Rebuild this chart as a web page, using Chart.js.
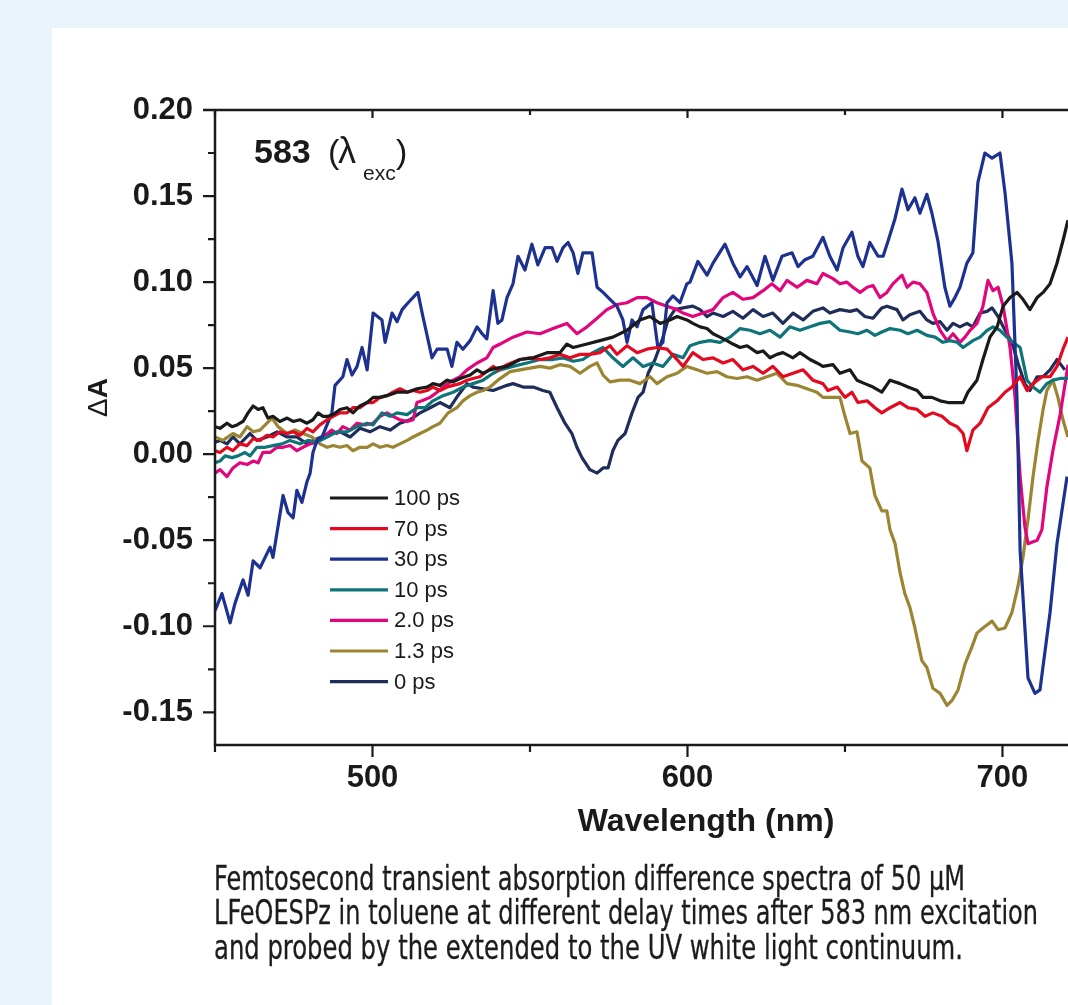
<!DOCTYPE html>
<html>
<head>
<meta charset="utf-8">
<script src="https://cdn.jsdelivr.net/npm/chart.js@4.4.1/dist/chart.umd.min.js"></script>
<style>
html,body{margin:0;padding:0;overflow:hidden;}
body{width:1068px;height:1005px;background:#e9f4fa;position:relative;}
#panel{position:absolute;left:52px;top:28px;right:0;bottom:0;background:#ffffff;}
#wrap{position:absolute;left:0;top:0;width:1068px;height:1005px;}
.cap{position:absolute;left:214px;font-family:"Liberation Sans Narrow","DejaVu Sans Condensed","Liberation Sans",sans-serif;font-size:34px;line-height:34px;color:#1e1b1c;white-space:nowrap;transform-origin:0 0;-webkit-text-stroke:0.3px #1e1b1c;}
</style>
</head>
<body>
<div id="panel"></div>
<div id="wrap"><canvas id="c"></canvas></div>
<div class="cap" id="cap1" style="top:861px">Femtosecond transient absorption difference spectra of 50 μM</div>
<div class="cap" id="cap2" style="top:895px">LFeOESPz in toluene at different delay times after 583 nm excitation</div>
<div class="cap" id="cap3" style="top:930px">and probed by the extended to the UV white light continuum.</div>
<script>
// ---------------- data (wavelength in nm, ΔA) ----------------
const wl100 = [450.0,451.6,453.8,455.4,457.0,458.9,460.5,462.1,463.7,465.2,
466.8,468.4,470.6,472.9,474.8,477.0,479.2,481.1,482.7,484.3,
485.9,487.5,489.7,491.9,493.8,496.0,498.3,500.2,502.4,504.6,
507.8,511.0,514.1,517.3,519.2,521.4,523.7,525.6,527.8,531.0,
533.2,535.1,537.3,539.5,542.7,546.8,551.0,555.4,559.5,561.7,
563.7,568.1,572.2,576.3,580.8,584.9,588.1,591.3,594.4,596.7,
599.8,601.7,604.0,606.2,608.1,610.3,612.5,614.4,616.7,618.9,
622.1,624.0,626.2,628.4,630.3,633.5,635.7,638.9,641.1,643.0,
646.2,648.4,651.6,653.8,656.3,658.9,661.7,664.3,667.5,670.0,
672.9,674.8,677.6,680.2,682.7,685.6,687.5,689.0,691.9,693.8,
696.0,698.3,700.2,702.4,704.6,706.5,708.7,711.0,712.9,715.1,
717.3,719.2,720.8];
const dA100 = [0.016,0.015,0.018,0.016,0.017,0.019,0.024,0.028,0.026,0.027,
0.021,0.022,0.019,0.021,0.019,0.020,0.018,0.020,0.024,0.022,
0.022,0.023,0.026,0.027,0.024,0.028,0.030,0.033,0.033,0.034,
0.036,0.036,0.038,0.039,0.041,0.040,0.043,0.042,0.044,0.046,
0.049,0.047,0.049,0.050,0.051,0.055,0.056,0.059,0.059,0.064,
0.062,0.064,0.066,0.068,0.072,0.078,0.080,0.076,0.078,0.080,
0.078,0.076,0.074,0.073,0.070,0.068,0.066,0.064,0.062,0.063,
0.059,0.060,0.056,0.058,0.059,0.056,0.059,0.055,0.053,0.051,
0.052,0.047,0.049,0.043,0.041,0.039,0.036,0.043,0.041,0.039,
0.037,0.033,0.033,0.031,0.030,0.030,0.030,0.036,0.043,0.055,
0.068,0.074,0.086,0.091,0.094,0.090,0.084,0.091,0.094,0.099,
0.111,0.124,0.136];

const wl70 = [450.0,451.6,453.8,455.7,457.9,460.2,462.1,464.3,466.5,468.4,
470.6,472.9,474.8,477.0,479.2,481.1,483.3,485.6,487.5,489.7,
491.9,493.8,496.0,498.3,500.2,502.4,504.6,506.5,508.7,511.0,
512.9,515.1,517.3,519.2,521.4,523.7,525.6,527.8,530.0,531.9,
534.1,536.3,538.3,539.8,542.7,546.8,550.0,553.2,556.3,559.5,
562.7,565.9,569.0,572.2,575.4,577.6,580.8,584.0,587.1,590.3,
593.5,596.7,598.6,601.7,604.9,608.1,611.3,614.4,617.6,620.8,
624.0,627.1,630.3,633.5,636.7,639.8,643.0,644.6,647.5,650.0,
652.2,654.1,657.0,659.5,661.7,664.3,667.5,670.0,672.9,675.4,
677.9,680.8,683.3,685.6,687.5,688.7,690.6,692.9,695.4,698.3,
700.8,703.0,705.6,707.8,709.7,712.5,715.1,717.3,719.2,720.8];
const dA70 = [0.002,0.001,0.004,0.002,0.006,0.005,0.009,0.008,0.011,0.010,
0.013,0.012,0.013,0.011,0.015,0.013,0.017,0.020,0.022,0.024,
0.024,0.027,0.027,0.030,0.030,0.033,0.034,0.036,0.038,0.036,
0.037,0.036,0.037,0.039,0.037,0.039,0.040,0.041,0.043,0.044,
0.045,0.048,0.051,0.049,0.052,0.055,0.056,0.055,0.056,0.058,
0.056,0.058,0.058,0.059,0.063,0.058,0.063,0.059,0.061,0.062,
0.061,0.055,0.051,0.059,0.055,0.056,0.053,0.055,0.049,0.051,
0.047,0.051,0.045,0.047,0.049,0.043,0.041,0.037,0.039,0.033,
0.036,0.030,0.031,0.027,0.024,0.027,0.030,0.027,0.026,0.022,
0.024,0.022,0.018,0.016,0.012,0.002,0.014,0.018,0.027,0.031,
0.036,0.039,0.045,0.037,0.041,0.045,0.045,0.051,0.061,0.068];

const wl30 = [450.0,452.2,454.8,456.3,458.9,460.5,462.1,464.3,467.5,468.4,
470.0,471.6,473.2,474.8,476.0,477.6,479.2,480.2,481.1,482.4,
484.0,487.1,488.1,490.6,491.9,493.5,495.1,496.7,498.3,500.2,
503.0,504.0,506.2,507.8,509.4,511.3,514.4,516.0,518.9,520.5,
523.7,525.2,526.8,528.7,531.0,533.2,534.8,536.3,538.3,539.8,
541.1,542.7,544.6,546.2,548.4,550.6,552.5,554.8,557.0,558.6,
560.5,562.1,563.7,565.2,566.8,569.7,571.3,573.2,575.4,577.6,
579.5,580.8,582.4,584.0,585.9,588.7,590.6,592.2,593.5,595.4,
597.6,599.8,600.8,603.3,606.2,608.1,611.9,614.4,616.7,618.9,
622.1,624.6,627.1,630.0,633.2,635.1,637.3,639.8,643.0,645.2,
647.5,649.4,652.2,654.1,655.7,657.9,660.5,662.1,663.7,665.9,
668.1,670.0,672.2,673.8,676.0,677.6,679.5,681.7,683.3,684.9,
686.5,688.7,690.6,692.2,694.4,696.7,699.2,700.8,703.0,704.6,
705.6,708.1,710.3,711.9,715.1,717.3,720.5];
const dA30 = [-0.091,-0.081,-0.098,-0.087,-0.073,-0.082,-0.062,-0.066,-0.054,-0.060,
-0.042,-0.024,-0.034,-0.037,-0.021,-0.028,-0.016,-0.011,0.001,0.008,
0.010,0.024,0.040,0.045,0.055,0.046,0.051,0.062,0.049,0.082,
0.078,0.065,0.082,0.077,0.084,0.088,0.094,0.080,0.056,0.061,
0.061,0.051,0.065,0.061,0.066,0.074,0.070,0.067,0.095,0.076,
0.078,0.091,0.099,0.115,0.107,0.122,0.110,0.120,0.120,0.112,
0.120,0.123,0.117,0.105,0.117,0.117,0.097,0.094,0.090,0.086,
0.078,0.065,0.078,0.074,0.084,0.088,0.062,0.065,0.088,0.092,
0.088,0.099,0.100,0.112,0.104,0.111,0.122,0.111,0.103,0.109,
0.098,0.115,0.101,0.115,0.117,0.109,0.113,0.115,0.126,0.115,
0.107,0.120,0.129,0.115,0.109,0.123,0.115,0.115,0.124,0.137,
0.154,0.142,0.149,0.140,0.151,0.140,0.124,0.097,0.086,0.091,
0.097,0.111,0.117,0.158,0.175,0.172,0.175,0.152,0.111,0.033,
-0.056,-0.130,-0.139,-0.137,-0.092,-0.052,-0.013];

const wl10 = [450.0,451.6,453.2,455.4,457.3,459.5,461.1,463.3,465.9,468.4,
471.3,473.8,477.0,479.5,482.4,485.6,488.7,491.9,495.1,498.3,
500.2,503.0,505.6,507.8,511.0,514.1,516.7,519.2,522.4,525.6,
528.7,531.9,535.1,538.3,540.5,544.6,549.0,553.2,557.3,560.5,
563.7,566.8,570.0,573.2,576.3,579.5,582.7,585.9,589.0,592.2,
595.4,598.6,600.8,604.0,607.1,610.3,613.5,616.7,619.8,623.0,
626.2,629.4,632.5,635.7,638.9,642.1,645.2,648.4,651.6,654.1,
657.0,659.5,661.7,664.3,667.5,670.0,672.9,676.0,678.6,681.1,
683.3,685.6,687.5,690.6,692.9,695.1,697.0,699.2,701.4,703.3,
705.6,707.8,709.7,711.9,714.1,716.0,718.3,720.8];
const dA10 = [-0.005,-0.004,-0.001,-0.002,-0.001,0.001,-0.001,0.004,0.004,0.005,
0.006,0.008,0.006,0.008,0.007,0.010,0.013,0.013,0.016,0.018,
0.017,0.024,0.022,0.024,0.023,0.027,0.027,0.031,0.034,0.036,
0.039,0.041,0.043,0.047,0.049,0.051,0.053,0.055,0.055,0.056,
0.054,0.055,0.059,0.062,0.056,0.051,0.056,0.051,0.053,0.051,
0.058,0.056,0.063,0.065,0.066,0.065,0.068,0.073,0.072,0.070,
0.072,0.068,0.074,0.072,0.074,0.076,0.077,0.072,0.071,0.070,
0.072,0.069,0.071,0.073,0.072,0.070,0.072,0.069,0.068,0.065,
0.066,0.065,0.062,0.066,0.068,0.072,0.074,0.072,0.068,0.065,
0.062,0.043,0.039,0.036,0.041,0.043,0.044,0.044];

const wl2 = [450.0,451.6,453.8,455.7,457.9,460.2,462.1,463.7,465.2,467.5,
469.7,471.6,473.8,476.0,477.9,480.2,482.4,484.3,487.1,488.7,
490.6,492.9,495.1,497.6,500.2,502.4,504.6,506.5,508.7,511.0,
512.9,514.1,515.7,518.3,520.5,522.4,525.6,527.8,530.0,533.2,
536.3,538.3,540.5,544.6,549.0,553.2,557.3,561.7,564.9,568.1,
571.3,574.4,577.6,580.8,584.0,587.1,590.3,593.5,596.7,598.6,
601.7,604.9,608.1,611.3,614.4,617.6,620.8,624.0,626.8,629.4,
631.6,634.8,637.9,641.1,643.0,646.2,648.4,650.6,652.5,654.8,
657.0,658.9,661.1,663.3,665.2,668.1,669.7,671.6,673.8,676.0,
677.9,680.2,682.4,684.3,686.5,688.1,689.7,691.9,693.8,695.4,
697.0,698.6,700.2,702.4,704.0,705.6,707.1,708.1,711.0,712.5,
714.1,716.0,718.3,719.8,720.8];
const dA2 = [-0.011,-0.009,-0.013,-0.008,-0.005,-0.006,-0.004,-0.005,0.001,0.001,
0.004,0.004,0.005,0.002,0.004,0.006,0.007,0.010,0.014,0.012,
0.016,0.014,0.018,0.017,0.018,0.022,0.024,0.022,0.020,0.019,
0.020,0.030,0.031,0.033,0.036,0.039,0.043,0.045,0.049,0.053,
0.056,0.062,0.064,0.068,0.071,0.070,0.073,0.076,0.070,0.074,
0.079,0.084,0.087,0.088,0.091,0.091,0.088,0.086,0.084,0.082,
0.080,0.082,0.084,0.091,0.094,0.090,0.091,0.095,0.099,0.095,
0.101,0.097,0.101,0.099,0.105,0.102,0.099,0.100,0.097,0.094,
0.097,0.098,0.091,0.094,0.099,0.104,0.097,0.100,0.099,0.094,
0.082,0.072,0.066,0.070,0.065,0.068,0.072,0.076,0.086,0.101,
0.095,0.097,0.086,0.062,0.033,-0.013,-0.042,-0.052,-0.050,-0.044,
-0.019,0.002,0.023,0.040,0.052];

const wl13 = [450.0,452.5,455.7,457.9,460.2,462.1,464.3,466.5,468.1,470.0,
472.9,475.4,477.9,480.8,483.3,485.6,487.5,489.7,491.9,493.8,
496.0,498.3,500.2,502.4,504.6,506.5,508.7,511.0,512.9,515.1,
517.3,519.2,521.4,524.0,526.8,528.7,531.0,533.2,535.1,537.3,
539.8,543.7,546.8,550.0,553.2,556.3,559.5,562.7,565.9,569.0,
571.3,573.2,575.4,578.6,581.7,584.9,588.1,590.3,593.5,596.7,
599.8,603.0,606.2,609.4,612.5,615.7,618.9,622.1,625.2,628.4,
631.6,634.8,637.9,641.1,643.0,646.2,648.4,650.0,651.6,653.8,
655.4,657.9,659.5,661.7,663.3,664.3,665.9,667.5,669.0,670.6,
672.2,674.4,676.0,677.9,680.2,682.4,684.0,685.9,688.1,690.3,
691.9,693.8,696.7,698.6,700.8,703.0,704.9,706.5,708.1,709.7,
711.3,712.9,714.1,716.0,717.6,719.2,720.8];
const dA13 = [0.010,0.008,0.012,0.010,0.016,0.013,0.014,0.018,0.021,0.016,
0.012,0.014,0.012,0.010,0.006,0.004,0.005,0.004,0.005,0.002,
0.004,0.004,0.006,0.004,0.005,0.004,0.006,0.008,0.010,0.012,
0.014,0.016,0.018,0.024,0.027,0.031,0.034,0.036,0.037,0.039,
0.043,0.048,0.049,0.050,0.051,0.050,0.052,0.051,0.047,0.051,
0.053,0.046,0.042,0.043,0.043,0.041,0.045,0.041,0.045,0.047,
0.051,0.049,0.047,0.048,0.045,0.044,0.045,0.043,0.045,0.047,
0.041,0.040,0.038,0.036,0.033,0.033,0.033,0.022,0.012,0.013,
-0.004,-0.008,-0.024,-0.033,-0.033,-0.044,-0.052,-0.069,-0.081,-0.089,
-0.101,-0.120,-0.124,-0.136,-0.139,-0.146,-0.143,-0.137,-0.122,-0.112,
-0.104,-0.101,-0.097,-0.102,-0.101,-0.092,-0.077,-0.060,-0.038,-0.013,
0.008,0.026,0.037,0.043,0.033,0.020,0.010];

const wl0 = [450.0,451.6,453.8,455.7,457.9,461.1,463.3,466.5,469.7,472.9,
476.0,479.2,482.4,486.5,489.7,492.9,496.0,499.2,502.4,505.6,
508.7,511.9,515.1,518.3,521.4,524.6,527.1,530.0,531.9,535.1,
538.3,542.7,544.6,547.8,551.0,554.1,556.3,558.6,561.1,563.3,
564.9,566.5,569.0,571.3,573.2,574.8,576.3,577.9,580.2,582.4,
584.3,585.9,587.5,589.7,591.9,593.8,596.0,598.6,601.7,604.0,
606.2,608.1,611.3,614.4,617.6,620.8,624.0,627.1,630.3,633.5,
636.7,639.8,643.0,645.2,648.4,651.6,653.8,656.3,658.9,661.7,
663.3,666.5,668.4,670.6,673.8,676.0,677.9,680.2,682.4,684.3,
686.5,688.7,690.6,692.9,695.1,696.7,698.6,700.8,703.0,704.9,
707.1,708.7,711.0,712.9,715.1,717.3,719.8];
const dA0 = [0.007,0.008,0.006,0.010,0.006,0.012,0.008,0.010,0.013,0.010,
0.010,0.006,0.009,0.012,0.013,0.010,0.015,0.013,0.016,0.014,
0.018,0.020,0.024,0.027,0.030,0.027,0.034,0.041,0.039,0.038,
0.037,0.040,0.041,0.039,0.039,0.037,0.036,0.027,0.018,0.012,
0.004,-0.002,-0.009,-0.011,-0.008,-0.008,0.002,0.008,0.012,0.024,
0.033,0.036,0.047,0.055,0.066,0.078,0.084,0.085,0.086,0.084,
0.080,0.082,0.080,0.083,0.079,0.084,0.080,0.082,0.076,0.082,
0.078,0.083,0.085,0.082,0.084,0.083,0.084,0.080,0.079,0.085,
0.086,0.084,0.078,0.081,0.083,0.078,0.076,0.077,0.072,0.076,
0.074,0.076,0.074,0.082,0.083,0.085,0.080,0.072,0.065,0.053,
0.041,0.037,0.045,0.045,0.049,0.055,0.049];

const seriesLabels = ['100 ps','70 ps','30 ps','10 ps','2.0 ps','1.3 ps','0 ps'];
const seriesX = [wl100, wl70, wl30, wl10, wl2, wl13, wl0];
const seriesY = [dA100, dA70, dA30, dA10, dA2, dA13, dA0];
const xTickValues = [500, 600, 700];
const yTickValues = [-0.15, -0.10, -0.05, 0.00, 0.05, 0.10, 0.15, 0.20];

// ---------------- styles ----------------
const seriesColors = ['#1a1a1a','#e30a20','#1d3190','#0f7479','#e2067d','#9b8532','#1f2d5a'];
const INK = '#1a1a1a';
const FONT = '"Liberation Sans", Arial, Helvetica, sans-serif';

const datasets = seriesLabels.map((lab, i) => ({
  label: lab,
  data: seriesX[i].map((xv, j) => ({x: xv, y: seriesY[i][j]})).filter(p => p.y !== undefined),
  borderColor: seriesColors[i],
  backgroundColor: seriesColors[i],
  borderWidth: 3.2,
  pointRadius: 0,
  tension: 0,
  fill: false,
  borderJoinStyle: 'round'
}));

const decoPlugin = {
  id: 'deco',
  afterDatasetsDraw(chart) {
    const {ctx, chartArea: a, scales: {x, y}} = chart;
    ctx.save();
    ctx.strokeStyle = INK;
    ctx.fillStyle = INK;
    ctx.lineWidth = 2.5;
    ctx.lineCap = 'butt';
    // frame (left, bottom, top)
    ctx.beginPath();
    ctx.moveTo(a.left, a.top - 1.25); ctx.lineTo(a.left, a.bottom + 1.25);
    ctx.moveTo(a.left - 1.25, a.bottom); ctx.lineTo(a.right + 2, a.bottom);
    ctx.moveTo(a.left - 12, a.top); ctx.lineTo(a.right + 2, a.top);
    ctx.stroke();
    // y ticks
    ctx.lineWidth = 2.2;
    ctx.beginPath();
    yTickValues.forEach(v => { const p = y.getPixelForValue(v); ctx.moveTo(a.left - 12, p); ctx.lineTo(a.left, p); });
    for (let i = 0; i < yTickValues.length - 1; i++) {
      const p = y.getPixelForValue((yTickValues[i] + yTickValues[i + 1]) / 2);
      ctx.moveTo(a.left - 7, p); ctx.lineTo(a.left, p);
    }
    // x ticks (bottom outward, top inward)
    xTickValues.forEach(v => {
      const p = x.getPixelForValue(v);
      ctx.moveTo(p, a.bottom); ctx.lineTo(p, a.bottom + 12);
      ctx.moveTo(p, a.top); ctx.lineTo(p, a.top + 8);
      const m = x.getPixelForValue(v - 50);
      ctx.moveTo(m, a.bottom); ctx.lineTo(m, a.bottom + 7);
      ctx.moveTo(m, a.top); ctx.lineTo(m, a.top + 5);
    });
    ctx.stroke();

    // legend
    ctx.font = '22px ' + FONT;
    ctx.textBaseline = 'middle';
    ctx.textAlign = 'left';
    seriesLabels.forEach((lab, i) => {
      const ry = 498 + i * 30.6;
      ctx.strokeStyle = seriesColors[i];
      ctx.lineWidth = 3.2;
      ctx.beginPath(); ctx.moveTo(330, ry); ctx.lineTo(388, ry); ctx.stroke();
      ctx.fillStyle = INK;
      ctx.fillText(lab, 394, ry + 1);
    });

    // annotation "583 (λexc)"
    ctx.textBaseline = 'alphabetic';
    ctx.fillStyle = INK;
    ctx.font = 'bold 34px ' + FONT;
    ctx.fillText('583', 254, 163);
    ctx.font = '34px ' + FONT;
    ctx.fillText('(', 328, 163);
    ctx.font = '36px ' + FONT;
    ctx.fillText('λ', 338, 163);
    ctx.font = '21px ' + FONT;
    ctx.fillText('exc', 363, 180);
    ctx.font = '34px ' + FONT;
    ctx.fillText(')', 396, 163);

    // x axis title
    ctx.font = 'bold 32px ' + FONT;
    ctx.textAlign = 'center';
    ctx.fillText('Wavelength (nm)', 706, 831);

    // y axis title ΔA
    ctx.save();
    ctx.translate(107, 417);
    ctx.rotate(-Math.PI / 2);
    ctx.textAlign = 'left';
    ctx.font = '28px ' + FONT;
    ctx.fillText('Δ', 0, 0);
    const dw = ctx.measureText('Δ').width;
    ctx.font = 'bold 28px ' + FONT;
    ctx.fillText('A', dw, 0);
    ctx.restore();
    ctx.restore();
  }
};

Chart.defaults.font.family = FONT;
Chart.defaults.color = INK;

new Chart(document.getElementById('c'), {
  type: 'line',
  data: { datasets },
  options: {
    responsive: true,
    maintainAspectRatio: false,
    animation: false,
    devicePixelRatio: 1,
    layout: { padding: { left: 0, top: 110, right: 0, bottom: 200 } },
    plugins: { legend: { display: false }, tooltip: { enabled: false } },
    scales: {
      x: {
        type: 'linear',
        min: 450, max: 720.8,
        grid: { display: false, drawTicks: false },
        border: { display: false },
        ticks: { font: { size: 31, weight: 'bold' }, color: INK, padding: 15, maxRotation: 0,
                 callback: v => String(v) },
        afterBuildTicks: s => { s.ticks = xTickValues.map(v => ({ value: v })); },
        afterFit: s => { s.height = 60; }
      },
      y: {
        type: 'linear',
        min: -0.169, max: 0.20,
        grid: { display: false, drawTicks: false },
        border: { display: false },
        ticks: { font: { size: 31, weight: 'bold' }, color: INK, padding: 22,
                 callback: v => Number(v).toFixed(2) },
        afterBuildTicks: s => { s.ticks = yTickValues.map(v => ({ value: v })); },
        afterFit: s => { s.width = 215; }
      }
    }
  },
  plugins: [decoPlugin]
});

// fit caption lines to the reference line lengths
const capWidths = { cap1: 751, cap2: 824, cap3: 749 };
function fitCaps() {
  Object.keys(capWidths).forEach(id => {
    const el = document.getElementById(id);
    el.style.transform = 'none';
    const w = el.getBoundingClientRect().width;
    if (w > 0) el.style.transform = 'scaleX(' + (capWidths[id] / w) + ')';
  });
}
fitCaps();
if (document.fonts && document.fonts.ready) document.fonts.ready.then(fitCaps);
</script>
</body>
</html>
